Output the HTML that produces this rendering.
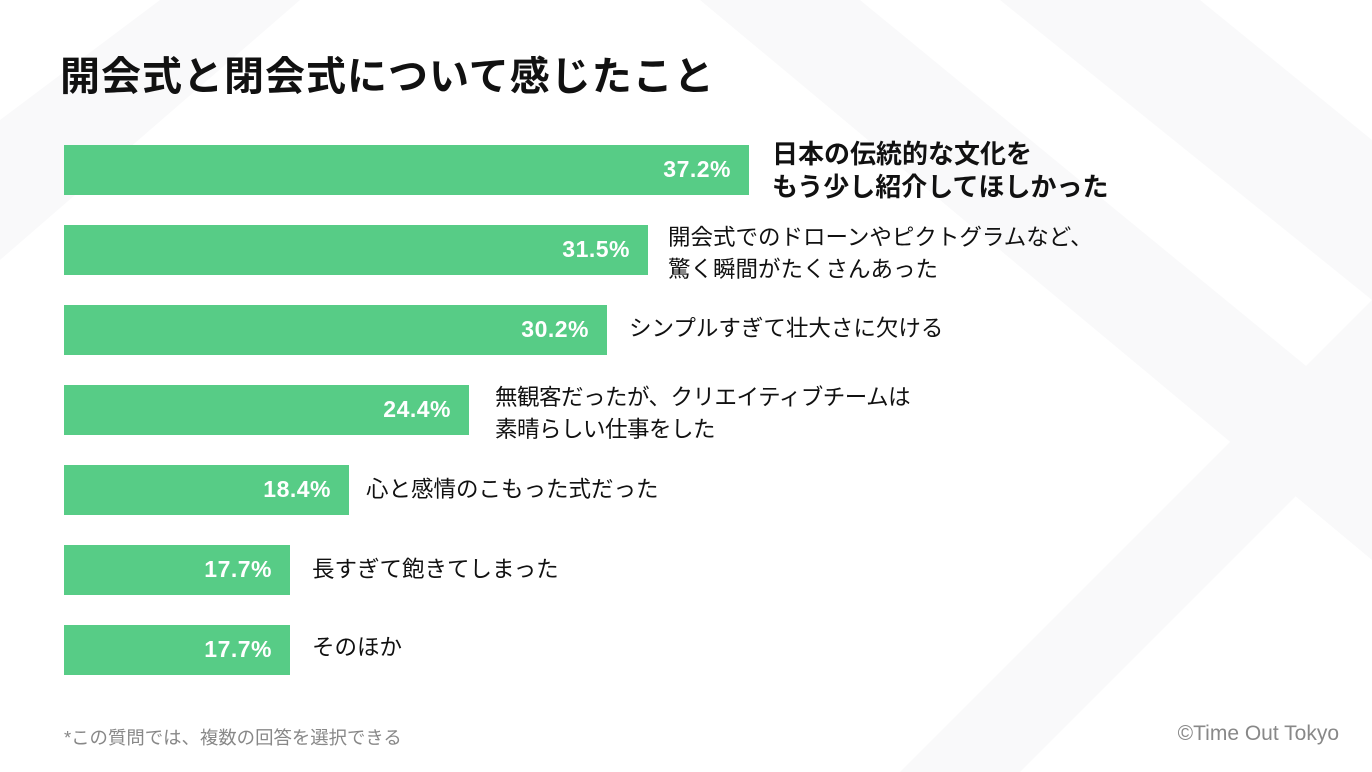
<!DOCTYPE html>
<html><head><meta charset="utf-8"><style>
body{margin:0;width:1372px;height:772px;overflow:hidden;background:#fff;position:relative;font-family:"Liberation Sans","Noto Sans CJK JP",sans-serif;}
.bg{position:absolute;left:0;top:0}
h1{position:absolute;left:60px;top:44px;margin:0;font-size:40px;font-weight:bold;color:#111;letter-spacing:1px;}
.bar{position:absolute;left:64px;height:50px;background:#57cc86;}
.bar span{position:absolute;right:18px;top:11px;color:#fff;font-weight:bold;font-size:23px;letter-spacing:0.5px;}
.lab{position:absolute;font-size:22.5px;color:#111;line-height:32px;}
.b{font-weight:bold;font-size:26px;line-height:33px;}
.note{position:absolute;left:64px;top:724px;font-size:18.4px;color:#888;}
.cr{position:absolute;right:33px;top:722px;font-size:21px;color:#888;}
</style></head><body>
<svg class="bg" width="1372" height="772"><g fill="#f9f9fa">
<polygon points="700,0 860,0 1372,420 1372,560"/>
<polygon points="1000,0 1200,0 1372,140 1372,300"/>
<polygon points="0,120 0,260 300,0 160,0"/>
<polygon points="900,772 1372,300 1372,420 1020,772"/>
</g></svg>
<h1>開会式と閉会式について感じたこと</h1>
<div class="bar" style="top:145px;width:685px"><span>37.2%</span></div>
<div class="lab b" style="left:772px;top:138px">日本の伝統的な文化を<br>もう少し紹介してほしかった</div>
<div class="bar" style="top:225px;width:584px"><span>31.5%</span></div>
<div class="lab" style="left:668px;top:222px">開会式でのドローンやピクトグラムなど、<br>驚く瞬間がたくさんあった</div>
<div class="bar" style="top:305px;width:543px"><span>30.2%</span></div>
<div class="lab" style="left:629px;top:313px">シンプルすぎて壮大さに欠ける</div>
<div class="bar" style="top:385px;width:405px"><span>24.4%</span></div>
<div class="lab" style="left:495px;top:382px;letter-spacing:-0.5px">無観客だったが、クリエイティブチームは<br>素晴らしい仕事をした</div>
<div class="bar" style="top:465px;width:285px"><span>18.4%</span></div>
<div class="lab" style="left:366px;top:474px">心と感情のこもった式だった</div>
<div class="bar" style="top:545px;width:226px"><span>17.7%</span></div>
<div class="lab" style="left:312px;top:554px">長すぎて飽きてしまった</div>
<div class="bar" style="top:625px;width:226px"><span>17.7%</span></div>
<div class="lab" style="left:312px;top:632px">そのほか</div>
<div class="note">*この質問では、複数の回答を選択できる</div>
<div class="cr">©Time Out Tokyo</div>
</body></html>
